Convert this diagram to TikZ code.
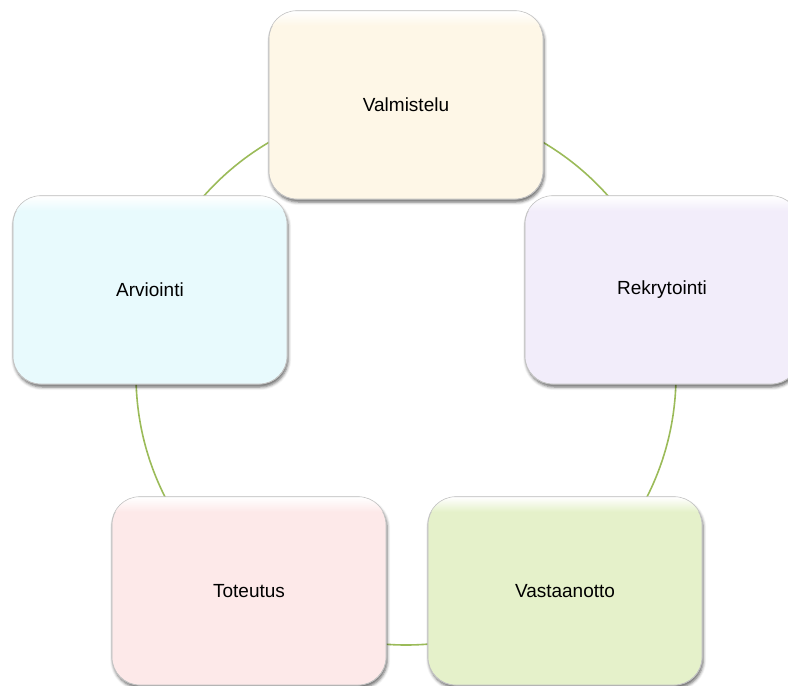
\documentclass[tikz,border=0pt]{standalone}
\usepackage{fontspec}
\setmainfont{Liberation Sans}
\usetikzlibrary{shadows.blur}

\definecolor{ringgreen}{HTML}{9BBB59}
\definecolor{cValm}{HTML}{FEF7E7}
\definecolor{cRekr}{HTML}{F2EDFA}
\definecolor{cArvi}{HTML}{E8FAFD}
\definecolor{cTote}{HTML}{FDE9E9}
\definecolor{cVast}{HTML}{E5F1CA}
\definecolor{boxedge}{HTML}{C4C4C4}

\tikzset{
  ring/.style={draw=ringgreen, line width=1.6pt},
  stagebox/.style={
    rectangle, rounded corners=28pt,
    minimum width=274pt, minimum height=188pt,
    fill=#1, draw=boxedge, line width=0.6pt,
    blur shadow={shadow xshift=1.2pt, shadow yshift=-3pt,
                 shadow blur radius=3pt, shadow opacity=60}
  },
  stagelabel/.style={font=\fontsize{19}{23}\selectfont, text=black}
}

\begin{document}
\begin{tikzpicture}[x=1pt, y=-1pt]
  \useasboundingbox (0,0) rectangle (788,686);

  % the cycle ring behind the stages
  \coordinate (hub) at (406,375);
  \draw[ring] (hub) circle (270pt);

  % the five stages
  \node[stagebox=cValm] (valm) at (406,105) {};
  \node[stagebox=cRekr] (rekr) at (662,290) {};
  \node[stagebox=cArvi] (arvi) at (150,290) {};
  \node[stagebox=cTote] (tote) at (249,591) {};
  \node[stagebox=cVast] (vast) at (565,591) {};

  % top highlights, outlines and labels
  \foreach \n/\c/\t in {valm/cValm/Valmistelu, rekr/cRekr/Rekrytointi,
                        arvi/cArvi/Arviointi, tote/cTote/Toteutus,
                        vast/cVast/Vastaanotto}{
    \begin{scope}
      \clip[rounded corners=28pt] (\n.south west) rectangle (\n.north east);
      \shade[top color=white, bottom color=\c]
        ([yshift=-0.5pt]\n.north west) rectangle ([yshift=-15pt]\n.north east);
    \end{scope}
    \draw[boxedge, line width=0.6pt, rounded corners=28pt]
      (\n.south west) rectangle (\n.north east);
    \node[stagelabel] (\n-label) at (\n.center) {\t};
  }
\end{tikzpicture}
\end{document}
